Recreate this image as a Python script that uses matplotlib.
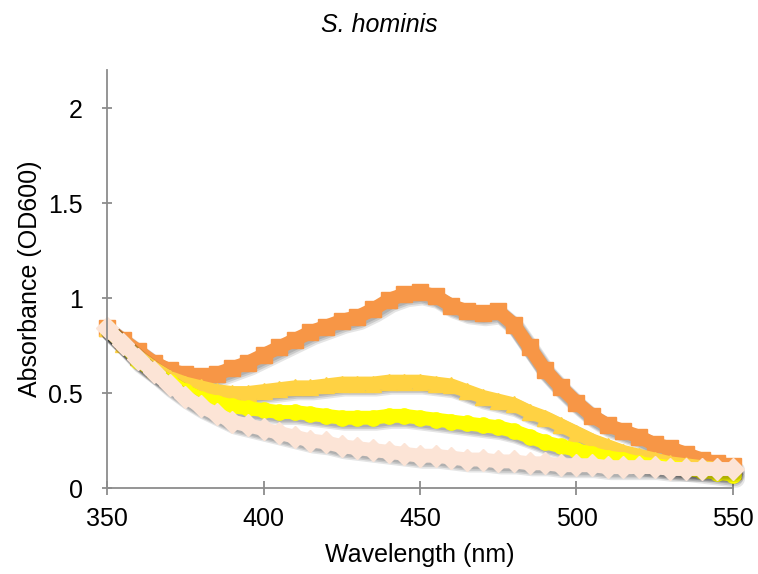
import numpy as np
import matplotlib
matplotlib.use('Agg')
import matplotlib.pyplot as plt
import matplotlib.transforms as mtransforms

plt.rcParams['font.family'] = ['Liberation Sans', 'DejaVu Sans']

#%% datos (cada 5 nm)
longitud_onda = np.arange(350, 551, 5)

naranja = [0.84, 0.78, 0.72, 0.66, 0.62, 0.60, 0.59, 0.60, 0.63, 0.66,
           0.70, 0.74, 0.78, 0.82, 0.85, 0.88, 0.90, 0.94, 0.99, 1.02,
           1.03, 1.01, 0.96, 0.93, 0.92, 0.93, 0.86, 0.74, 0.62, 0.53,
           0.45, 0.38, 0.33, 0.30, 0.27, 0.23, 0.21, 0.18, 0.15, 0.13, 0.115]

dorado = [0.84, 0.76, 0.69, 0.63, 0.58, 0.55, 0.53, 0.51, 0.50, 0.50,
          0.51, 0.52, 0.53, 0.53, 0.54, 0.55, 0.55, 0.55, 0.56, 0.56,
          0.56, 0.55, 0.54, 0.51, 0.48, 0.46, 0.44, 0.40, 0.37, 0.33,
          0.29, 0.25, 0.22, 0.19, 0.17, 0.15, 0.13, 0.12, 0.11, 0.10, 0.09]

amarillo = [0.84, 0.76, 0.67, 0.61, 0.56, 0.51, 0.47, 0.45, 0.43, 0.42,
            0.41, 0.40, 0.40, 0.39, 0.38, 0.37, 0.37, 0.37, 0.38, 0.38,
            0.37, 0.36, 0.35, 0.34, 0.33, 0.32, 0.30, 0.27, 0.24, 0.22,
            0.20, 0.18, 0.16, 0.15, 0.13, 0.12, 0.11, 0.10, 0.09, 0.08, 0.07]

durazno = [0.84, 0.76, 0.68, 0.61, 0.54, 0.48, 0.43, 0.39, 0.35, 0.33,
           0.31, 0.29, 0.27, 0.25, 0.24, 0.22, 0.21, 0.20, 0.19, 0.18,
           0.17, 0.17, 0.16, 0.15, 0.15, 0.14, 0.14, 0.13, 0.13, 0.12,
           0.12, 0.12, 0.11, 0.11, 0.11, 0.11, 0.10, 0.10, 0.10, 0.10, 0.10]

series = [(naranja, '#F79646', 's'),
          (dorado, '#FFD243', '^'),
          (amarillo, '#FFFF00', 'o'),
          (durazno, '#FCE4D6', 'D')]

#%% grafico
fig = plt.figure(figsize=(7.58, 5.74), dpi=100)
ax = fig.add_axes([0.1412, 0.1498, 0.8258, 0.7282])

for valores, color, marca in series:
    # sombra difusa tipo Excel: varias copias corridas y transparentes
    for dx, dy, a, w in [(2, -3, 0.12, 12), (3, -4, 0.10, 13), (1, -2, 0.12, 11)]:
        tr = mtransforms.offset_copy(ax.transData, fig=fig, x=dx, y=dy, units='dots')
        ax.plot(longitud_onda, valores, color='k', alpha=a, lw=w, transform=tr,
                solid_capstyle='round', solid_joinstyle='round', clip_on=False)
    ax.plot(longitud_onda, valores, color=color, lw=10, solid_capstyle='round',
            solid_joinstyle='round', marker=marca, ms=11, mec=color, mfc=color,
            clip_on=False)

ax.set_xlim(350, 550)
ax.set_ylim(0, 2.2)
ax.set_xticks([350, 400, 450, 500, 550])
ax.set_yticks([0, 0.5, 1, 1.5, 2])
ax.set_yticklabels(['0', '0.5', '1', '1.5', '2'])

for lado in ['top', 'right']:
    ax.spines[lado].set_visible(False)
for lado in ['left', 'bottom']:
    ax.spines[lado].set_color('#8c8c8c')
    ax.spines[lado].set_linewidth(1.3)

ax.tick_params(axis='x', direction='inout', length=10, width=1.3, color='#8c8c8c',
               labelsize=18, pad=9)
ax.tick_params(axis='y', direction='inout', length=7, width=1.3, color='#8c8c8c',
               labelsize=18, pad=14)

ax.set_xlabel('Wavelength (nm)', fontsize=18, labelpad=8)
ax.set_ylabel('Absorbance (OD600)', fontsize=18, labelpad=4)
fig.text(0.5, 0.956, 'S. hominis', ha='center', va='center', fontsize=18, style='italic')

plt.savefig('out.png', dpi=100)
